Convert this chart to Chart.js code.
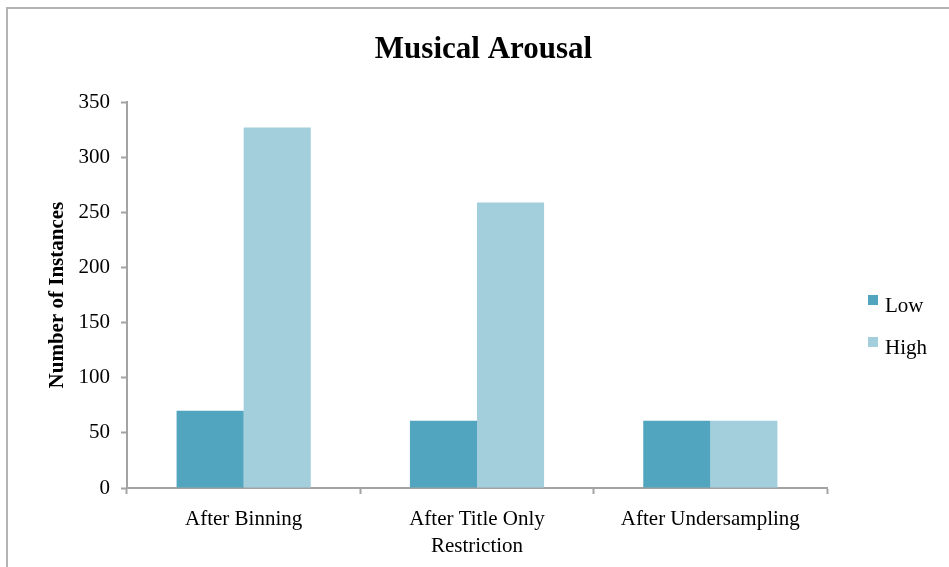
<!DOCTYPE html>
<html>
<head>
<meta charset="utf-8">
<script src="https://cdn.jsdelivr.net/npm/chart.js@4"></script>
<style>
  html, body { margin: 0; padding: 0; background: #fff; }
  #wrap { width: 949px; height: 567px; position: relative; }
</style>
</head>
<body>
<div id="wrap"><canvas id="arousalChart"></canvas></div>
<script>
const categories = ["After Binning", ["After Title Only", "Restriction"], "After Undersampling"];
const lowCounts = [70, 61, 61];
const highCounts = [327, 259, 61];
const yTicks = [0, 50, 100, 150, 200, 250, 300, 350];

const serif = "'Liberation Serif', 'Times New Roman', serif";
const axisGray = "#a3a3a3";

// outer frame (top and left edge) behind the chart
const frame = {
  id: "frame",
  beforeDraw(chart) {
    const c = chart.ctx;
    c.save();
    c.fillStyle = "#fff";
    c.fillRect(0, 0, chart.width, chart.height);
    c.strokeStyle = "#b4b4b4";
    c.lineWidth = 2;
    c.beginPath();
    c.moveTo(7, chart.height);
    c.lineTo(7, 8);
    c.lineTo(chart.width, 8);
    c.stroke();
    c.restore();
  }
};

// legend on the right: small squares next to the series names
const sideLegend = {
  id: "sideLegend",
  afterDraw(chart) {
    const c = chart.ctx;
    const x = chart.chartArea.right + 41;
    c.save();
    c.font = "21px " + serif;
    c.textBaseline = "middle";
    chart.data.datasets.forEach((ds, i) => {
      const y = 300 + i * 42;
      c.fillStyle = ds.backgroundColor;
      c.fillRect(x, y - 5, 10, 10);
      c.fillStyle = "#000";
      c.fillText(ds.label, x + 17, y + 6);
    });
    c.restore();
  }
};

new Chart(document.getElementById("arousalChart"), {
  type: "bar",
  data: {
    labels: categories,
    datasets: [
      { label: "Low", data: lowCounts, backgroundColor: "#51a5be" },
      { label: "High", data: highCounts, backgroundColor: "#a2cfdb" }
    ]
  },
  options: {
    responsive: true,
    maintainAspectRatio: false,
    animation: false,
    categoryPercentage: 0.575,
    barPercentage: 1.0,
    layout: { padding: { left: 18, right: 0, top: 0, bottom: 0 } },
    plugins: {
      legend: { display: false },
      tooltip: { enabled: false },
      title: {
        display: true,
        text: "Musical Arousal",
        color: "#000",
        font: { family: serif, size: 31, weight: "bold" },
        padding: { top: 31, bottom: 34 }
      }
    },
    scales: {
      x: {
        afterFit: s => { s.height = 79; },
        grid: {
          drawOnChartArea: false,
          drawTicks: true,
          tickLength: 6,
          tickWidth: 2,
          tickColor: axisGray,
          offset: true
        },
        border: { color: axisGray, width: 2 },
        ticks: {
          color: "#000",
          font: { family: serif, size: 21, lineHeight: 1.28 },
          padding: 12,
          maxRotation: 0
        }
      },
      y: {
        min: 0,
        max: 350,
        afterFit: s => { s.width = 109; },
        afterBuildTicks: s => { s.ticks = yTicks.map(v => ({ value: v })); },
        grid: {
          drawOnChartArea: false,
          drawTicks: true,
          tickLength: 6,
          tickWidth: 2,
          tickColor: axisGray
        },
        border: { color: axisGray, width: 2 },
        ticks: {
          color: "#000",
          font: { family: serif, size: 21 },
          padding: 11
        },
        title: {
          display: true,
          text: "Number of Instances",
          color: "#000",
          font: { family: serif, size: 21, weight: "bold" },
          padding: { top: 27, bottom: 0 }
        }
      },
      // empty strip on the right that holds the legend
      legendSpace: {
        type: "linear",
        position: "right",
        display: true,
        grid: { display: false },
        border: { display: false },
        ticks: { display: false },
        afterFit: s => { s.width = 122; }
      }
    }
  },
  plugins: [frame, sideLegend]
});
</script>
</body>
</html>
